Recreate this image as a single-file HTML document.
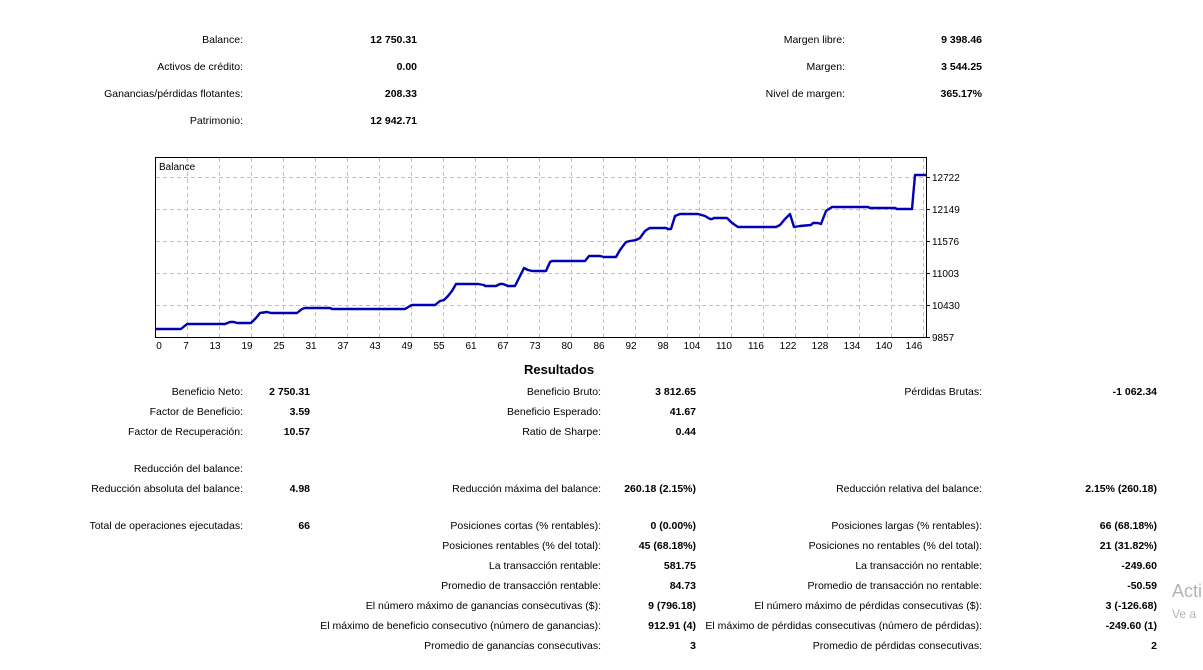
<!DOCTYPE html>
<html><head><meta charset="utf-8"><style>
body{margin:0;width:1203px;height:670px;background:#fff;position:relative;overflow:hidden;font-family:"Liberation Sans","DejaVu Sans",sans-serif;font-size:10.5px;color:#000}
.t{position:absolute;white-space:nowrap;line-height:13px;margin-top:1px}
.b{font-weight:bold}
svg{position:absolute;left:0;top:0}
</style></head><body>
<div class="t" style="right:960px;top:33px">Balance:</div><div class="t b" style="right:786px;top:33px">12 750.31</div>
<div class="t" style="right:960px;top:60px">Activos de crédito:</div><div class="t b" style="right:786px;top:60px">0.00</div>
<div class="t" style="right:960px;top:87px">Ganancias/pérdidas flotantes:</div><div class="t b" style="right:786px;top:87px">208.33</div>
<div class="t" style="right:960px;top:114px">Patrimonio:</div><div class="t b" style="right:786px;top:114px">12 942.71</div>
<div class="t" style="right:358px;top:33px">Margen libre:</div><div class="t b" style="right:221px;top:33px">9 398.46</div>
<div class="t" style="right:358px;top:60px">Margen:</div><div class="t b" style="right:221px;top:60px">3 544.25</div>
<div class="t" style="right:358px;top:87px">Nivel de margen:</div><div class="t b" style="right:221px;top:87px">365.17%</div>

<svg width="1203" height="670" xmlns="http://www.w3.org/2000/svg">
<g stroke="#c0c0c0" stroke-dasharray="4,3" stroke-width="1">
<line x1="156" y1="177.5" x2="926" y2="177.5"/><line x1="156" y1="209.5" x2="926" y2="209.5"/><line x1="156" y1="241.5" x2="926" y2="241.5"/><line x1="156" y1="273.5" x2="926" y2="273.5"/><line x1="156" y1="305.5" x2="926" y2="305.5"/>
<line x1="187.5" y1="158" x2="187.5" y2="337"/><line x1="219.5" y1="158" x2="219.5" y2="337"/><line x1="251.5" y1="158" x2="251.5" y2="337"/><line x1="283.5" y1="158" x2="283.5" y2="337"/><line x1="315.5" y1="158" x2="315.5" y2="337"/><line x1="347.5" y1="158" x2="347.5" y2="337"/><line x1="379.5" y1="158" x2="379.5" y2="337"/><line x1="411.5" y1="158" x2="411.5" y2="337"/><line x1="443.5" y1="158" x2="443.5" y2="337"/><line x1="475.5" y1="158" x2="475.5" y2="337"/><line x1="507.5" y1="158" x2="507.5" y2="337"/><line x1="539.5" y1="158" x2="539.5" y2="337"/><line x1="571.5" y1="158" x2="571.5" y2="337"/><line x1="603.5" y1="158" x2="603.5" y2="337"/><line x1="635.5" y1="158" x2="635.5" y2="337"/><line x1="667.5" y1="158" x2="667.5" y2="337"/><line x1="699.5" y1="158" x2="699.5" y2="337"/><line x1="731.5" y1="158" x2="731.5" y2="337"/><line x1="763.5" y1="158" x2="763.5" y2="337"/><line x1="795.5" y1="158" x2="795.5" y2="337"/><line x1="827.5" y1="158" x2="827.5" y2="337"/><line x1="859.5" y1="158" x2="859.5" y2="337"/><line x1="891.5" y1="158" x2="891.5" y2="337"/><line x1="923.5" y1="158" x2="923.5" y2="337"/>
</g>
<rect x="155.5" y="157.5" width="771" height="180" fill="none" stroke="#000"/>
<g stroke="#000"><line x1="926" y1="177.5" x2="930" y2="177.5"/><line x1="926" y1="209.5" x2="930" y2="209.5"/><line x1="926" y1="241.5" x2="930" y2="241.5"/><line x1="926" y1="273.5" x2="930" y2="273.5"/><line x1="926" y1="305.5" x2="930" y2="305.5"/><line x1="926" y1="337.5" x2="930" y2="337.5"/></g>
<polyline fill="none" stroke="#0000b4" stroke-width="2.4" stroke-linejoin="round" points="156,329 181,329 187,324 225,324 230,322 234,322 237,323 251,323 256,318 260,313 267,312 271,313 297,313 302,309 305,308 330,308 332,309 405,309 410,306 412,305 435,305 440,301 444,300 448,296 452,291 456,284 478,284 484,285 485,286 496,286 500,284 503,284 508,286 515,286 520,276 524,268 528,270 532,271 546,271 550,262 552,261 585,261 589,256 600,256 604,257 616,257 620,250 626,242 630,241 636,240 640,238 645,231 648,229 650,228 666,228 668,229 671,229 675,216 680,214 698,214 705,216 710,219 712,219 714,218 727,218 731,222 735,225 738,227 776,227 780,225 785,219 790,214 794,227 800,226 811,225 813,223 818,223 821,224 826,211 832,207 868,207 870,208 895,208 897,209 912,209 915,175 926,175"/>
<text x="159" y="170" font-size="10" font-family="Liberation Sans, sans-serif">Balance</text>
<g font-size="10" font-family="Liberation Sans, sans-serif">
<text x="932" y="181">12722</text><text x="932" y="213">12149</text><text x="932" y="245">11576</text><text x="932" y="277">11003</text><text x="932" y="309">10430</text><text x="932" y="341">9857</text>
</g>
<g font-size="10" font-family="Liberation Sans, sans-serif" text-anchor="middle">
<text x="159" y="349">0</text><text x="186" y="349">7</text><text x="215" y="349">13</text><text x="247" y="349">19</text><text x="279" y="349">25</text><text x="311" y="349">31</text><text x="343" y="349">37</text><text x="375" y="349">43</text><text x="407" y="349">49</text><text x="439" y="349">55</text><text x="471" y="349">61</text><text x="503" y="349">67</text><text x="535" y="349">73</text><text x="567" y="349">80</text><text x="599" y="349">86</text><text x="631" y="349">92</text><text x="663" y="349">98</text><text x="692" y="349">104</text><text x="724" y="349">110</text><text x="756" y="349">116</text><text x="788" y="349">122</text><text x="820" y="349">128</text><text x="852" y="349">134</text><text x="884" y="349">140</text><text x="914" y="349">146</text>
</g>
</svg>

<div class="t b" style="left:524px;top:361px;font-size:13px;line-height:16px">Resultados</div>

<div class="t" style="right:960px;top:385px">Beneficio Neto:</div><div class="t b" style="right:893px;top:385px">2 750.31</div>
<div class="t" style="right:602px;top:385px">Beneficio Bruto:</div><div class="t b" style="right:507px;top:385px">3 812.65</div>
<div class="t" style="right:221px;top:385px">Pérdidas Brutas:</div><div class="t b" style="right:46px;top:385px">-1 062.34</div>

<div class="t" style="right:960px;top:405px">Factor de Beneficio:</div><div class="t b" style="right:893px;top:405px">3.59</div>
<div class="t" style="right:602px;top:405px">Beneficio Esperado:</div><div class="t b" style="right:507px;top:405px">41.67</div>

<div class="t" style="right:960px;top:425px">Factor de Recuperación:</div><div class="t b" style="right:893px;top:425px">10.57</div>
<div class="t" style="right:602px;top:425px">Ratio de Sharpe:</div><div class="t b" style="right:507px;top:425px">0.44</div>

<div class="t" style="right:960px;top:462px">Reducción del balance:</div>
<div class="t" style="right:960px;top:482px">Reducción absoluta del balance:</div><div class="t b" style="right:893px;top:482px">4.98</div>
<div class="t" style="right:602px;top:482px">Reducción máxima del balance:</div><div class="t b" style="right:507px;top:482px">260.18 (2.15%)</div>
<div class="t" style="right:221px;top:482px">Reducción relativa del balance:</div><div class="t b" style="right:46px;top:482px">2.15% (260.18)</div>

<div class="t" style="right:960px;top:519px">Total de operaciones ejecutadas:</div><div class="t b" style="right:893px;top:519px">66</div>
<div class="t" style="right:602px;top:519px">Posiciones cortas (% rentables):</div><div class="t b" style="right:507px;top:519px">0 (0.00%)</div>
<div class="t" style="right:221px;top:519px">Posiciones largas (% rentables):</div><div class="t b" style="right:46px;top:519px">66 (68.18%)</div>

<div class="t" style="right:602px;top:539px">Posiciones rentables (% del total):</div><div class="t b" style="right:507px;top:539px">45 (68.18%)</div>
<div class="t" style="right:221px;top:539px">Posiciones no rentables (% del total):</div><div class="t b" style="right:46px;top:539px">21 (31.82%)</div>

<div class="t" style="right:602px;top:559px">La transacción rentable:</div><div class="t b" style="right:507px;top:559px">581.75</div>
<div class="t" style="right:221px;top:559px">La transacción no rentable:</div><div class="t b" style="right:46px;top:559px">-249.60</div>

<div class="t" style="right:602px;top:579px">Promedio de transacción rentable:</div><div class="t b" style="right:507px;top:579px">84.73</div>
<div class="t" style="right:221px;top:579px">Promedio de transacción no rentable:</div><div class="t b" style="right:46px;top:579px">-50.59</div>

<div class="t" style="right:602px;top:599px">El número máximo de ganancias consecutivas ($):</div><div class="t b" style="right:507px;top:599px">9 (796.18)</div>
<div class="t" style="right:221px;top:599px">El número máximo de pérdidas consecutivas ($):</div><div class="t b" style="right:46px;top:599px">3 (-126.68)</div>

<div class="t" style="right:602px;top:619px">El máximo de beneficio consecutivo (número de ganancias):</div><div class="t b" style="right:507px;top:619px">912.91 (4)</div>
<div class="t" style="right:221px;top:619px">El máximo de pérdidas consecutivas (número de pérdidas):</div><div class="t b" style="right:46px;top:619px">-249.60 (1)</div>

<div class="t" style="right:602px;top:639px">Promedio de ganancias consecutivas:</div><div class="t b" style="right:507px;top:639px">3</div>
<div class="t" style="right:221px;top:639px">Promedio de pérdidas consecutivas:</div><div class="t b" style="right:46px;top:639px">2</div>

<div class="t" style="left:1172px;top:579px;font-size:18px;line-height:22px;color:#b4b4b4">Acti</div>
<div class="t" style="left:1172px;top:607px;font-size:12px;color:#b4b4b4">Ve a</div>
</body></html>
